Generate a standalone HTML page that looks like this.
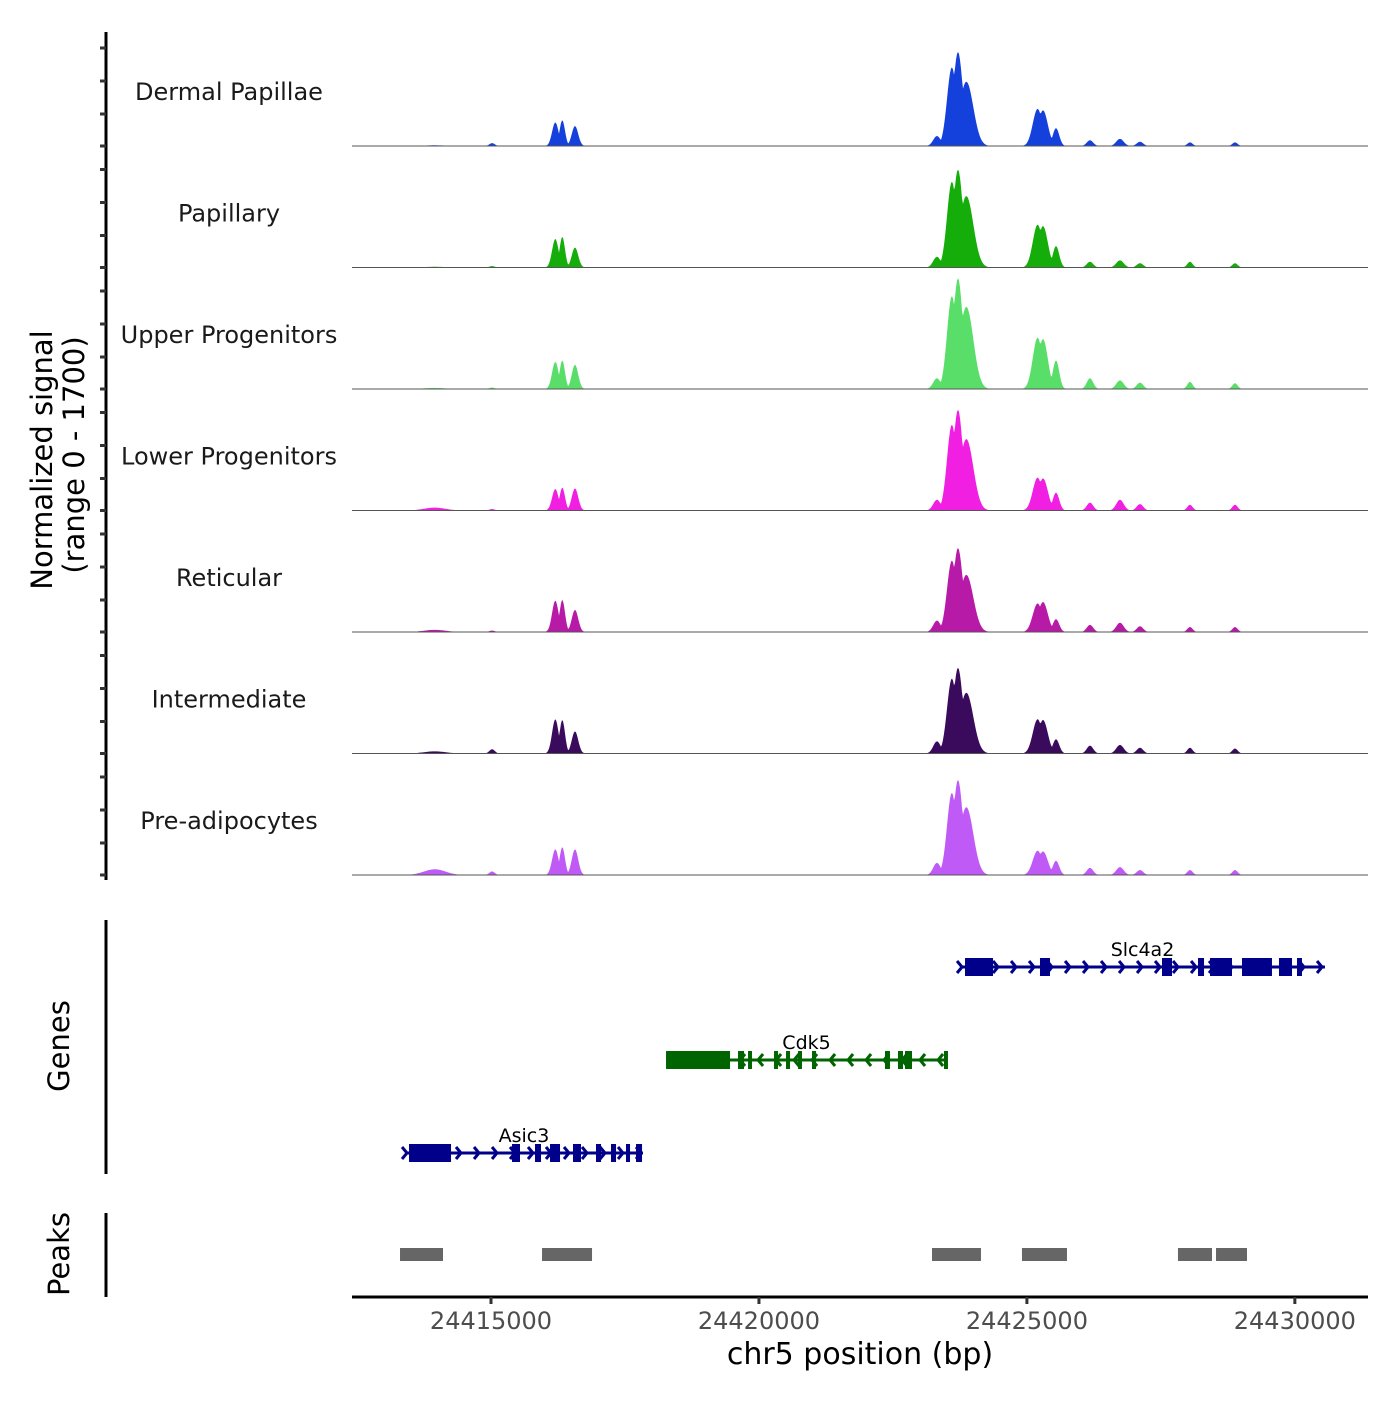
<!DOCTYPE html>
<html><head><meta charset="utf-8"><style>
body{margin:0;background:#fff}
svg text{font-family:"DejaVu Sans","Liberation Sans",sans-serif}
</style></head><body>
<svg id="chart" width="1400" height="1400" viewBox="0 0 1400 1400" xmlns="http://www.w3.org/2000/svg">
<g id="tracks"></g>
<g id="genes"></g>
<g id="peaks"></g>
<g id="axes"></g>
<text transform="translate(52,460) rotate(-90)" text-anchor="middle" font-size="29" fill="#000">Normalized signal</text>
<text transform="translate(84,455) rotate(-90)" text-anchor="middle" font-size="29" fill="#000">(range 0 - 1700)</text>
<text transform="translate(69,1046) rotate(-90)" text-anchor="middle" font-size="29" fill="#000">Genes</text>
<text transform="translate(69,1254) rotate(-90)" text-anchor="middle" font-size="29" fill="#000">Peaks</text>
<text x="860" y="1364" text-anchor="middle" font-size="30" fill="#000">chr5 position (bp)</text>
</svg>
<script>
const cellTypes=["Dermal Papillae","Papillary","Upper Progenitors","Lower Progenitors","Reticular","Intermediate","Pre-adipocytes"];
const colors=["#1440dc","#15ad0a","#5ade6a","#f01fe2","#b81aa8","#3a0a5c","#c05af6"];
const peakCenters=[24415020,24416200,24416330,24416567,24423322,24423600,24423714,24423870,24425200,24425300,24425543,24426177,24426737,24427110,24428043,24428883,24413950];
const peakWidths=[50,60,50,60,70,90,90,130,90,90,60,60,70,60,50,50,200];
const signalDermal=[40,330,360,280,140,1100,1315,900,520,500,250,80,100,60,50,50,10];
const signalPapillary=[20,400,430,280,150,1200,1370,1000,600,580,300,80,100,60,80,60,10];
const signalUpper=[20,380,400,340,150,1300,1550,1150,720,700,400,150,120,90,100,80,15];
const signalLower=[20,300,320,310,150,1200,1410,1000,460,450,250,110,150,90,80,80,40];
const signalReticular=[20,440,450,310,160,1000,1175,800,400,420,180,100,130,80,70,70,30];
const signalIntermediate=[60,480,470,310,170,1050,1200,850,480,470,200,110,120,80,80,70,30];
const signalPreadip=[50,360,390,360,170,1150,1330,950,340,330,200,100,110,70,70,70,80];
const signals=[signalDermal,signalPapillary,signalUpper,signalLower,signalReticular,signalIntermediate,signalPreadip];
const xTicks=[24415000,24420000,24425000,24430000];
const genes=[
 {name:"Slc4a2",strand:1,start:24423752,end:24430562,row:0,color:"#00008b",
  exons:[[24423845,24424367],[24425244,24425431],[24427521,24427708],[24428193,24428305],[24428417,24428827],[24429014,24429573],[24429704,24429947],[24430040,24430133]]},
 {name:"Cdk5",strand:-1,start:24418266,end:24423509,row:1,color:"#006400",
  exons:[[24418266,24419460],[24419609,24419721],[24419796,24419870],[24420281,24420356],[24420505,24420580],[24420729,24420803],[24420990,24421065],[24422352,24422445],[24422594,24422688],[24422725,24422856],[24423453,24423527]]},
 {name:"Asic3",strand:1,start:24413395,end:24417836,row:2,color:"#00008b",
  exons:[[24413470,24414254],[24415392,24415541],[24415821,24415933],[24416101,24416288],[24416530,24416679],[24416959,24417053],[24417239,24417333],[24417519,24417594],[24417706,24417818]]}
];
const peakStarts=[24413302,24415952,24423229,24424908,24427819,24428529];
const peakEnds=[24414104,24416885,24424143,24425748,24428454,24429107];

const NS="http://www.w3.org/2000/svg";
const X0=352,X1=1368,D0=24412406,D1=24431365;
function xs(bp){return X0+(bp-D0)/(D1-D0)*(X1-X0);}
const trackH=121.5,base0=146,yMax=1700;
function ys(v,k){return base0+k*trackH - v/yMax*trackH;}
function mk(tag,attrs,parent){const e=document.createElementNS(NS,tag);for(const a in attrs)e.setAttribute(a,attrs[a]);parent.appendChild(e);return e;}
const tracks=document.getElementById('tracks');
signals.forEach((s,k)=>{
  const g=mk('g',{},tracks);
  
  
  let d="M"+X0+","+ys(0,k);
  for(let px=X0;px<=X1;px+=1){
    const bp=D0+(px-X0)/(X1-X0)*(D1-D0);
    let v=0;
    for(let i=0;i<peakCenters.length;i++){
      const z=(bp-peakCenters[i])/peakWidths[i];
      const h=s[i]*Math.exp(-z*z/2);
      if(h>v)v=h;
    }
    d+=" L"+px+","+ys(v,k).toFixed(2);
  }
  d+=" L"+X1+","+ys(0,k)+"Z";
  const p=mk('path',{d:d,fill:colors[k]},g);
  
  
  const bl=mk('line',{x1:X0,x2:X1,y1:ys(0,k),y2:ys(0,k),stroke:"#555","stroke-width":1},g);
  
  
  const t=mk('text',{x:229,y:ys(0,k)-46,"text-anchor":"middle","font-size":24,fill:"#1a1a1a"},g);
  
  
  t.textContent=cellTypes[k];
});
const axes=document.getElementById('axes');
mk('line',{x1:106,x2:106,y1:32,y2:880,stroke:"#000","stroke-width":3},axes);
for(let k=0;k<7;k++){const b=base0+k*trackH;[98,65,32,0].forEach(o=>{mk('line',{x1:100,x2:106,y1:b-o,y2:b-o,stroke:"#333","stroke-width":3},axes);});}
mk('line',{x1:106,x2:106,y1:920,y2:1174,stroke:"#000","stroke-width":3},axes);
mk('line',{x1:106,x2:106,y1:1213,y2:1297,stroke:"#000","stroke-width":3},axes);
mk('line',{x1:X0,x2:X1,y1:1297,y2:1297,stroke:"#000","stroke-width":3},axes);
xTicks.forEach(v=>{
  mk('line',{x1:xs(v),x2:xs(v),y1:1297,y2:1304,stroke:"#333","stroke-width":3},axes);
  const t=mk('text',{x:xs(v),y:1329,"text-anchor":"middle","font-size":24,fill:"#4d4d4d"},axes);
  
  
  t.textContent=v;
});
const gG=document.getElementById('genes');
const rowY=[967,1060,1153];
genes.forEach(gn=>{
  const g=mk('g',{},gG);
  
  
  const y=rowY[gn.row];
  mk('line',{x1:xs(gn.start),x2:xs(gn.end),y1:y,y2:y,stroke:gn.color,"stroke-width":3},g);
  const x0=xs(gn.start),x1=xs(gn.end);
  for(let ax=x0+2;ax<=x1;ax+=18){
    const dx=gn.strand>0?5:-5;
    mk('polyline',{points:(ax-dx)+","+(y-6)+" "+ax+","+y+" "+(ax-dx)+","+(y+6),fill:"none",stroke:gn.color,"stroke-width":3},g);
  }
  gn.exons.forEach(e=>{mk('rect',{x:xs(e[0]),y:y-9,width:Math.max(3,xs(e[1])-xs(e[0])),height:18,fill:gn.color},g);});
  const t=mk('text',{x:(x0+x1)/2,y:y-11,"text-anchor":"middle","font-size":19,fill:"#000"},g);
  
  
  t.textContent=gn.name;
});
const pG=document.getElementById('peaks');
peakStarts.forEach((s,i)=>{
  const r=mk('rect',{x:xs(s),y:1248,width:xs(peakEnds[i])-xs(s),height:13,fill:"#666"},pG);
  
  
});
</script>
</body></html>
